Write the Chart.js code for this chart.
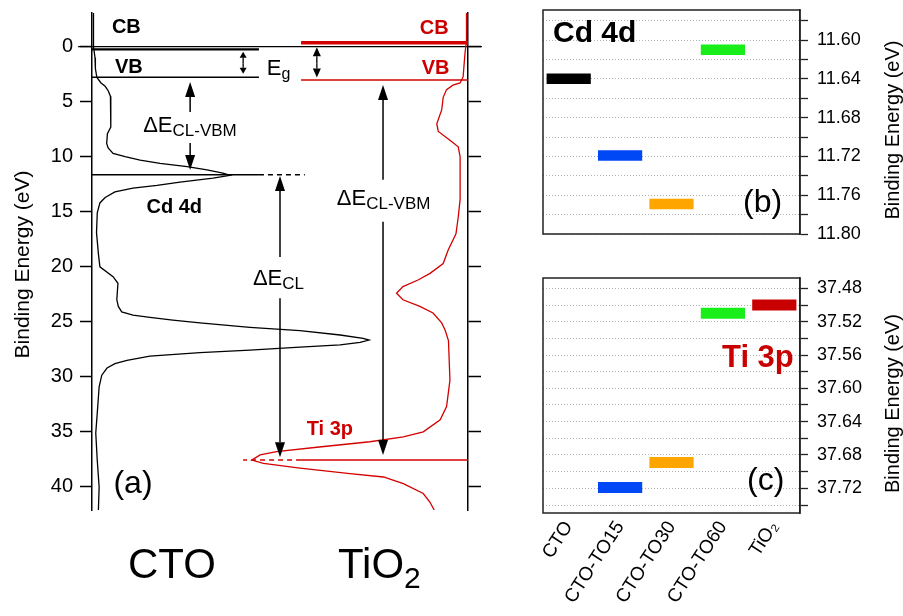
<!DOCTYPE html>
<html>
<head>
<meta charset="utf-8">
<script src="https://cdn.jsdelivr.net/npm/chart.js@4.4.1/dist/chart.umd.min.js"></script>
<style>
  html, body { margin: 0; padding: 0; background: #fff; }
  #wrap { position: relative; width: 903px; height: 616px; overflow: hidden; }
  canvas { position: absolute; }
</style>
</head>
<body>
<div id="wrap">
  <canvas id="ca" width="520" height="616" style="left:0;top:0"></canvas>
  <canvas id="cb" width="383" height="260" style="left:520px;top:0"></canvas>
  <canvas id="cc" width="383" height="356" style="left:520px;top:260px"></canvas>
</div>
<script>
// ---- panel (a): spectra, binding energy (eV) vs intensity (arb.)
const energyTicks = [0, 5, 10, 15, 20, 25, 30, 35, 40];

const ctoE = [-3.06, 0, 1.0, 2.0, 2.8, 3.3, 3.6, 4.0, 4.5, 7.3, 7.9, 8.8, 9.2, 9.7, 10.0, 10.3, 10.6, 10.9, 11.2, 11.5, 11.69, 11.95, 12.3, 12.6, 12.85, 13.2, 13.7, 14.2, 15.1, 16.9, 18.8, 20.0, 20.9, 21.5, 23.0, 23.6, 24.1, 24.4, 24.6, 24.85, 25.1, 25.5, 25.8, 26.2, 26.5, 26.66, 26.87, 27.1, 27.3, 27.57, 27.8, 28.12, 28.5, 28.8, 29.2, 29.85, 30.9, 33.3, 35.1, 37.6, 40.0, 42.1];
const ctoI = [0.4, 0.4, 0.8, 0.9, 1.3, 2.4, 3.5, 4.3, 4.9, 5.0, 4.1, 3.9, 4.3, 5.6, 8.8, 12.8, 18.1, 25.3, 30.6, 34.8, 36.7, 32.2, 23.4, 17.3, 10.9, 6.1, 3.5, 2.1, 1.4, 1.2, 1.7, 2.1, 5.6, 6.9, 6.6, 7.0, 7.9, 10.9, 15.4, 21.5, 28.7, 42.0, 55.3, 66.0, 72.1, 73.7, 71.3, 66.0, 55.3, 42.0, 28.7, 15.4, 9.3, 6.1, 4.0, 2.6, 1.9, 1.4, 1.0, 1.4, 1.9, 1.7];

const tioE = [-3.06, -0.5, 0.6, 2.75, 3.3, 3.5, 3.9, 4.6, 5.75, 7.0, 7.7, 8.5, 9.1, 10.0, 13.9, 15.5, 17.0, 18.5, 19.7, 20.6, 21.2, 21.8, 22.4, 23.0, 23.6, 24.2, 25.1, 25.75, 26.7, 30.3, 32.7, 33.9, 35.0, 35.45, 35.9, 36.4, 36.8, 37.1, 37.57, 37.87, 38.3, 38.8, 39.1, 39.7, 40.6, 41.4, 42.1];
const tioI = [0.3, 0.4, 0.8, 1.3, 2.1, 4.0, 5.7, 6.6, 7.0, 8.3, 7.9, 4.8, 2.6, 2.1, 2.1, 2.6, 3.2, 5.3, 6.6, 10.1, 13.3, 17.3, 19.0, 17.3, 12.8, 9.3, 7.0, 6.1, 5.2, 4.8, 5.7, 7.4, 11.9, 17.2, 26.1, 40.2, 50.9, 55.3, 57.5, 54.4, 44.7, 31.4, 22.5, 17.2, 11.9, 10.1, 9.0];

// band edges and core levels (eV)
const ctoCB = 0.24, ctoVB = 2.78, cdLevel = 11.64;
const tioCB = -0.35, tioVB = 3.03, tiLevel = 37.55;

// ---- panels (b) and (c): core level positions per sample
const samples = ['CTO', 'CTO-TO15', 'CTO-TO30', 'CTO-TO60', 'TiO\u2082'];
const sampleColors = ['#000000', '#0047f5', '#ffa500', '#1aee1a', '#c80000'];
const cd4d = [11.640, 11.719, 11.769, 11.610, null];
const ti3p = [null, 37.719, 37.689, 37.510, 37.500];
const cdTicks = [11.58, 11.60, 11.62, 11.64, 11.66, 11.68, 11.70, 11.72, 11.74, 11.76, 11.78, 11.80];
const cdTickLabels = ['11.60', '11.64', '11.68', '11.72', '11.76', '11.80'];
const tiTicks = [37.48, 37.50, 37.52, 37.54, 37.56, 37.58, 37.60, 37.62, 37.64, 37.66, 37.68, 37.70, 37.72, 37.74];
const tiTickLabels = ['37.48', '37.52', '37.56', '37.60', '37.64', '37.68', '37.72'];

const FONT = '"Liberation Sans", Arial, Helvetica, sans-serif';
Chart.defaults.font.family = FONT;
Chart.defaults.color = '#000';

const RED = '#d40000';

function pts(es, is) {
  return es.map((e, i) => ({ x: is[i], y: e }));
}

function level(e, u0, u1, color, width, axis, dash) {
  return {
    data: [{ x: u0, y: e }, { x: u1, y: e }],
    borderColor: color, borderWidth: width, showLine: true, pointRadius: 0,
    xAxisID: axis, borderDash: dash || [], clip: false
  };
}

function arrow(ctx, x, y0, y1, hw, hl, lw) {
  const d = y1 > y0 ? 1 : -1;
  ctx.lineWidth = lw || 1.5;
  ctx.beginPath();
  ctx.moveTo(x, y0);
  ctx.lineTo(x, y1 - d * hl);
  ctx.stroke();
  ctx.beginPath();
  ctx.moveTo(x, y1);
  ctx.lineTo(x - hw / 2, y1 - d * hl);
  ctx.lineTo(x + hw / 2, y1 - d * hl);
  ctx.closePath();
  ctx.fill();
}

function subText(ctx, x, y, main, sub, size, subSize, dy) {
  ctx.font = size + 'px ' + FONT;
  ctx.fillText(main, x, y);
  const w = ctx.measureText(main).width;
  ctx.font = subSize + 'px ' + FONT;
  ctx.fillText(sub, x + w, y + dy);
}

function vTitle(ctx, x, y, text, size) {
  ctx.save();
  ctx.translate(x, y);
  ctx.rotate(-Math.PI / 2);
  ctx.font = size + 'px ' + FONT;
  ctx.textAlign = 'center';
  ctx.textBaseline = 'alphabetic';
  ctx.fillStyle = '#000';
  ctx.fillText(text, 0, 0);
  ctx.restore();
}

const annotA = {
  id: 'annotA',
  afterDatasetsDraw(chart) {
    const ctx = chart.ctx;
    const a = chart.chartArea;
    const X = u => chart.scales.x.getPixelForValue(u);
    const Y = e => chart.scales.y.getPixelForValue(e);
    ctx.save();
    ctx.strokeStyle = '#000';
    ctx.fillStyle = '#000';
    // band gap arrows
    const egL = X(40.2), egR = X(59.8);
    arrow(ctx, egL, Y(1.5), Y(0.45), 7, 6, 1.3);
    arrow(ctx, egL, Y(1.5), Y(2.45), 7, 6, 1.3);
    arrow(ctx, egR, Y(1.5), Y(0.05), 8, 9, 1.3);
    arrow(ctx, egR, Y(1.5), Y(2.8), 8, 9, 1.3);
    // Delta E arrows
    arrow(ctx, X(26.1), Y(5.94), Y(3.21), 10, 15);
    arrow(ctx, X(26.1), Y(8.76), Y(11.21), 10, 15);
    arrow(ctx, X(50), Y(19.1), Y(11.75), 10, 15);
    arrow(ctx, X(50), Y(22.85), Y(37.3), 10, 15);
    arrow(ctx, X(77.4), Y(12.1), Y(3.48), 10, 15);
    arrow(ctx, X(77.4), Y(15.9), Y(37.1), 10, 15);

    ctx.textAlign = 'left';
    ctx.textBaseline = 'alphabetic';
    ctx.font = 'bold 20px ' + FONT;
    ctx.fillText('CB', X(5.3), Y(-1.2));
    ctx.fillText('VB', X(6.1), Y(2.36));
    ctx.fillText('Cd 4d', X(14.5), Y(15.15));
    subText(ctx, X(46.5), Y(2.57), 'E', 'g', 22, 16, 4);
    subText(ctx, X(13.6), Y(7.75), '\u0394E', 'CL-VBM', 22, 17, 4);
    subText(ctx, X(42.8), Y(21.7), '\u0394E', 'CL', 22, 17, 4);
    subText(ctx, X(65.1), Y(14.4), '\u0394E', 'CL-VBM', 22, 17, 4);
    ctx.fillStyle = '#cc0000';
    ctx.font = 'bold 20px ' + FONT;
    ctx.fillText('CB', X(87.2), Y(-1.15));
    ctx.fillText('VB', X(87.7), Y(2.48));
    ctx.fillText('Ti 3p', X(57.1), Y(35.3));
    ctx.fillStyle = '#000';
    ctx.font = '32px ' + FONT;
    ctx.fillText('(a)', X(5.7), Y(40.6));
    ctx.font = '42px ' + FONT;
    ctx.fillText('CTO', 128, a.bottom + 68);
    subText(ctx, 338, a.bottom + 68, 'TiO', '2', 42, 30, 10);
    ctx.restore();
    vTitle(ctx, 29, (a.top + a.bottom) / 2 + 3, 'Binding Energy (eV)', 21);
  }
};

const yBase = {
  type: 'linear', reverse: true, min: -3.06, max: 42.1,
  afterBuildTicks: s => { s.ticks = energyTicks.map(v => ({ value: v })); },
  grid: { drawOnChartArea: false, tickLength: 12, tickColor: '#000', tickWidth: 1.5 },
  border: { color: '#000', width: 1.5 }
};

new Chart(document.getElementById('ca'), {
  type: 'scatter',
  data: {
    datasets: [
      { data: pts(ctoE, ctoI), borderColor: '#000', borderWidth: 1.3, showLine: true, pointRadius: 0, xAxisID: 'x' },
      { data: pts(tioE, tioI), borderColor: RED, borderWidth: 1.3, showLine: true, pointRadius: 0, xAxisID: 'xt' },
      level(0, -3.7, 103.7, '#000', 1.3, 'x'),
      level(ctoCB, 0, 44.4, '#000', 2.2, 'x'),
      level(ctoVB, 0, 44.4, '#000', 1.5, 'x'),
      level(cdLevel, 0, 44.4, '#000', 1.5, 'x'),
      level(cdLevel, 44.4, 56.6, '#000', 1.5, 'x', [5, 4]),
      level(tioCB, 0, 44.4, RED, 3.5, 'xt'),
      level(tioVB, 0, 44.4, RED, 1.5, 'xt'),
      level(tiLevel, 0, 44.4, RED, 1.5, 'xt'),
      level(tiLevel, 44.4, 59.8, RED, 1.5, 'xt', [5, 4])
    ]
  },
  options: {
    responsive: false,
    animation: false,
    layout: { padding: { top: 13, bottom: 106, left: 0, right: 0 } },
    plugins: { legend: { display: false }, tooltip: { enabled: false } },
    scales: {
      x: { type: 'linear', min: 0, max: 100, display: false },
      xt: { type: 'linear', min: 0, max: 100, reverse: true, display: false },
      y: Object.assign({}, yBase, {
        position: 'left',
        ticks: { padding: 7, font: { size: 20 }, color: '#000', autoSkip: false },
        afterFit: s => { s.width = 92; s.paddingTop = 0; s.paddingBottom = 0; }
      }),
      y2: Object.assign({}, yBase, {
        position: 'right',
        ticks: { display: false, autoSkip: false },
        grid: { drawOnChartArea: false, tickLength: 13, tickColor: '#000', tickWidth: 1.5 },
        afterFit: s => { s.width = 52; s.paddingTop = 0; s.paddingBottom = 0; }
      })
    }
  },
  plugins: [annotA]
});

// ---- panels (b) and (c)
function framePlugin(drawTexts) {
  return {
    id: 'frame',
    afterDatasetsDraw(chart) {
      const ctx = chart.ctx;
      const a = chart.chartArea;
      ctx.save();
      ctx.strokeStyle = '#222';
      ctx.lineWidth = 1.5;
      ctx.strokeRect(a.left, a.top, a.right - a.left, a.bottom - a.top);
      ctx.textAlign = 'left';
      ctx.textBaseline = 'alphabetic';
      drawTexts(ctx, a);
      ctx.restore();
      vTitle(ctx, 379, (a.top + a.bottom) / 2 + 8, 'Binding Energy (eV)', 20);
    }
  };
}

function levelChart(id, values, half, ticks, labels, min, max, top, bottomH, showX, drawTexts) {
  return new Chart(document.getElementById(id), {
    type: 'bar',
    data: {
      labels: samples,
      datasets: [{
        data: values.map(v => v == null ? null : [v - half, v + half]),
        backgroundColor: sampleColors,
        borderWidth: 0,
        barPercentage: 0.86,
        categoryPercentage: 1
      }]
    },
    options: {
      responsive: false,
      animation: false,
      layout: { padding: { top: top, left: 23, right: 0, bottom: showX ? 0 : bottomH } },
      plugins: { legend: { display: false }, tooltip: { enabled: false } },
      scales: {
        x: {
          display: showX,
          grid: { display: false },
          border: { display: false },
          ticks: { font: { size: 19 }, color: '#000', minRotation: 57, maxRotation: 57, autoSkip: false, padding: -4 },
          afterFit: s => { s.height = bottomH; }
        },
        y: {
          position: 'right', reverse: true, min: min, max: max,
          afterBuildTicks: s => { s.ticks = ticks.map(v => ({ value: v })); },
          afterFit: s => { s.width = 103; s.paddingTop = 0; s.paddingBottom = 0; },
          ticks: {
            font: { size: 18 }, color: '#000', padding: 9, autoSkip: false,
            callback: v => labels.includes(v.toFixed(2)) ? v.toFixed(2) : ''
          },
          grid: { color: '#b4b4b4', lineWidth: 1, tickLength: 8, tickColor: '#222', tickWidth: 1.3 },
          border: { color: '#222', width: 1.5, dash: [1, 2] }
        }
      }
    },
    plugins: [framePlugin(drawTexts)]
  });
}

levelChart('cb', cd4d, 0.0054, cdTicks, cdTickLabels, 11.569, 11.80, 10, 13, false, (ctx, a) => {
  ctx.fillStyle = '#000';
  ctx.font = 'bold 30px ' + FONT;
  ctx.fillText('Cd 4d', a.left + 10, a.top + 32);
  ctx.font = '32px ' + FONT;
  ctx.fillText('(b)', a.left + 200, a.bottom - 22);
});

levelChart('cc', ti3p, 0.0066, tiTicks, tiTickLabels, 37.4676, 37.7496, 18, 103, true, (ctx, a) => {
  ctx.fillStyle = '#c80000';
  ctx.font = 'bold 31px ' + FONT;
  ctx.fillText('Ti 3p', a.left + 179, a.top + 89);
  ctx.fillStyle = '#000';
  ctx.font = '32px ' + FONT;
  ctx.fillText('(c)', a.left + 204, a.bottom - 23);
});
</script>
</body>
</html>
